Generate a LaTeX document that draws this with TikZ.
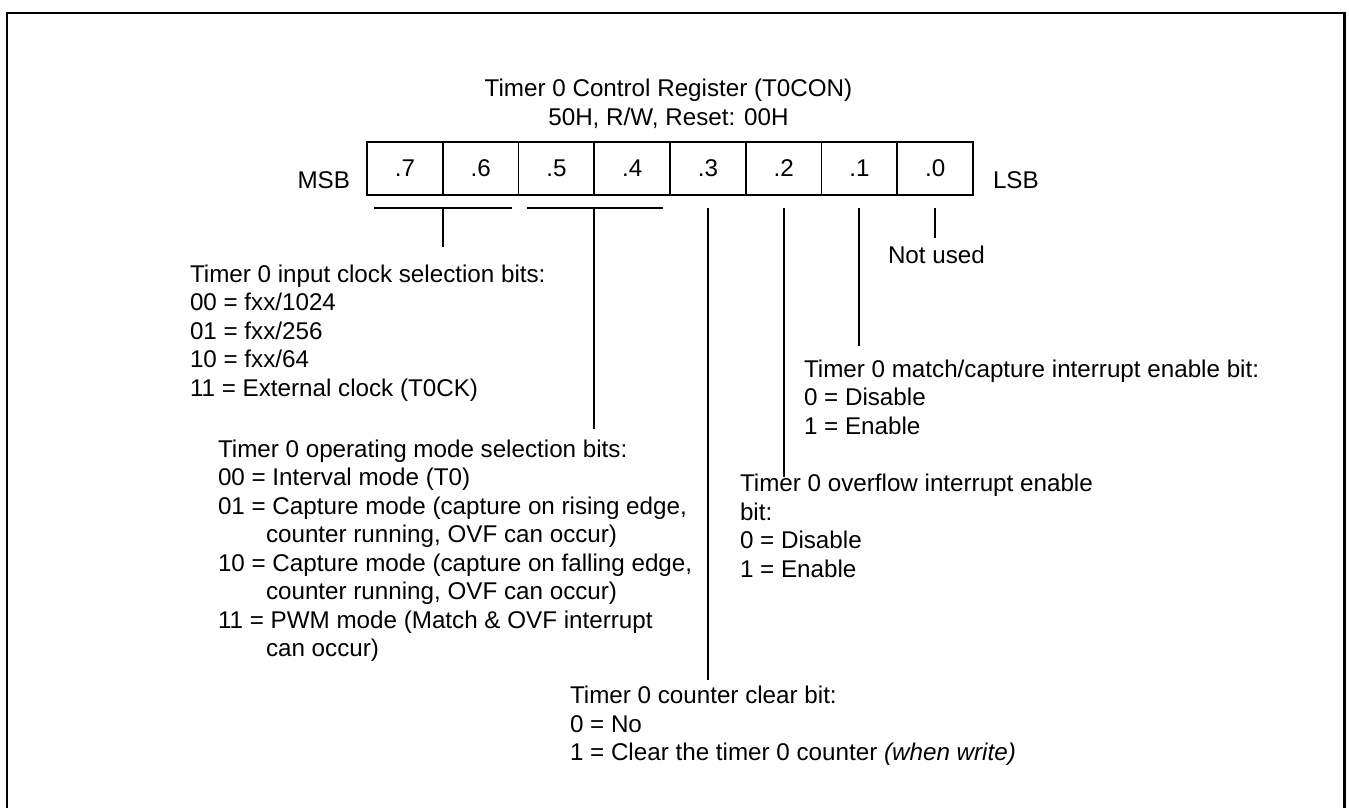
\documentclass[tikz,border=0pt]{standalone}
\usepackage{fontspec}
\setmainfont{Liberation Sans}
\begin{document}
\begin{tikzpicture}[x=1pt,y=-1pt,
  font=\fontsize{24.2}{28.5}\selectfont,
  every node/.style={inner sep=0pt, outer sep=0pt},
  cell/.style={draw, line width=1.8pt, minimum width=75.75pt, minimum height=53pt, anchor=north west},
  conn/.style={line width=1.8pt},
  block/.style={align=left, anchor=north west},
  frameline/.style={line width=2.6pt}]
\useasboundingbox (0,0) rectangle (1349,808);
\draw[frameline] (7,820) -- (7,13) -- (1344.5,13) -- (1344.5,820);

% title
\node[anchor=base] (title) at (668.5,96.7) {Timer 0 Control Register (T0CON)};
\node[anchor=base] (addr) at (668.5,125.7) {50H, R/W, Reset: 00H};

% register cells
\foreach \i/\b in {0/7,1/6,2/5,3/4,4/3,5/2,6/1,7/0}
  \node[cell] (c\b) at (367+\i*75.75,142) {.\b};
\node[anchor=base east] (msb) at (350,188.7) {MSB};
\node[anchor=base west] (lsb) at (993,188.7) {LSB};

% text blocks
\node[block] (blk1) at (190,262.05) {\strut Timer 0 input clock selection bits:\\
00 = fxx/1024\\
01 = fxx/256\\
10 = fxx/64\\
11 = External clock (T0CK)};

\node[block] (blk2) at (218,437.05) {\strut Timer 0 operating mode selection bits:\\
00 = Interval mode (T0)\\
01 = Capture mode (capture on rising edge,\\
\hspace*{48pt}counter running, OVF can occur)\\
10 = Capture mode (capture on falling edge,\\
\hspace*{48pt}counter running, OVF can occur)\\
11 = PWM mode (Match \& OVF interrupt\\
\hspace*{48pt}can occur)};

\node[block] (blk3) at (804,357.05) {\strut Timer 0 match/capture interrupt enable bit:\\
0 = Disable\\
1 = Enable};

\node[block] (blk4) at (740,471.75) {\strut Timer 0 overflow interrupt enable\\
bit:\\
0 = Disable\\
1 = Enable};

\node[block] (blk5) at (570,683.75) {\strut Timer 0 counter clear bit:\\
0 = No\\
1 = Clear the timer 0 counter \textit{(when write)}};

\node[anchor=base west] (nu) at (888,263.7) {Not used};

% brackets and connectors
\coordinate (b1l) at (374,208);
\coordinate (b1r) at (512,208);
\coordinate (b2l) at (527,208);
\coordinate (b2r) at (663,208);
\draw[conn] (b1l) -- (b1r);
\draw[conn] (b2l) -- (b2r);
\coordinate (e1) at (c7.south east |- 0,247);
\coordinate (e2) at (c5.south east |- 0,429);
\draw[conn] (c7.south east |- b1l) -- (e1);
\draw[conn] (c5.south east |- b2l) -- (e2);

\coordinate (e3) at (c3.south |- 0,680);
\coordinate (e4) at (c2.south |- 0,477);
\coordinate (e5) at (c1.south |- 0,346);
\coordinate (e6) at (c0.south |- 0,238);
\draw[conn] (c3.south |- b1l) -- (e3);
\draw[conn] (c2.south |- b1l) -- (e4);
\draw[conn] (c1.south |- b1l) -- (e5);
\draw[conn] (c0.south |- b1l) -- (e6);
\end{tikzpicture}
\end{document}
